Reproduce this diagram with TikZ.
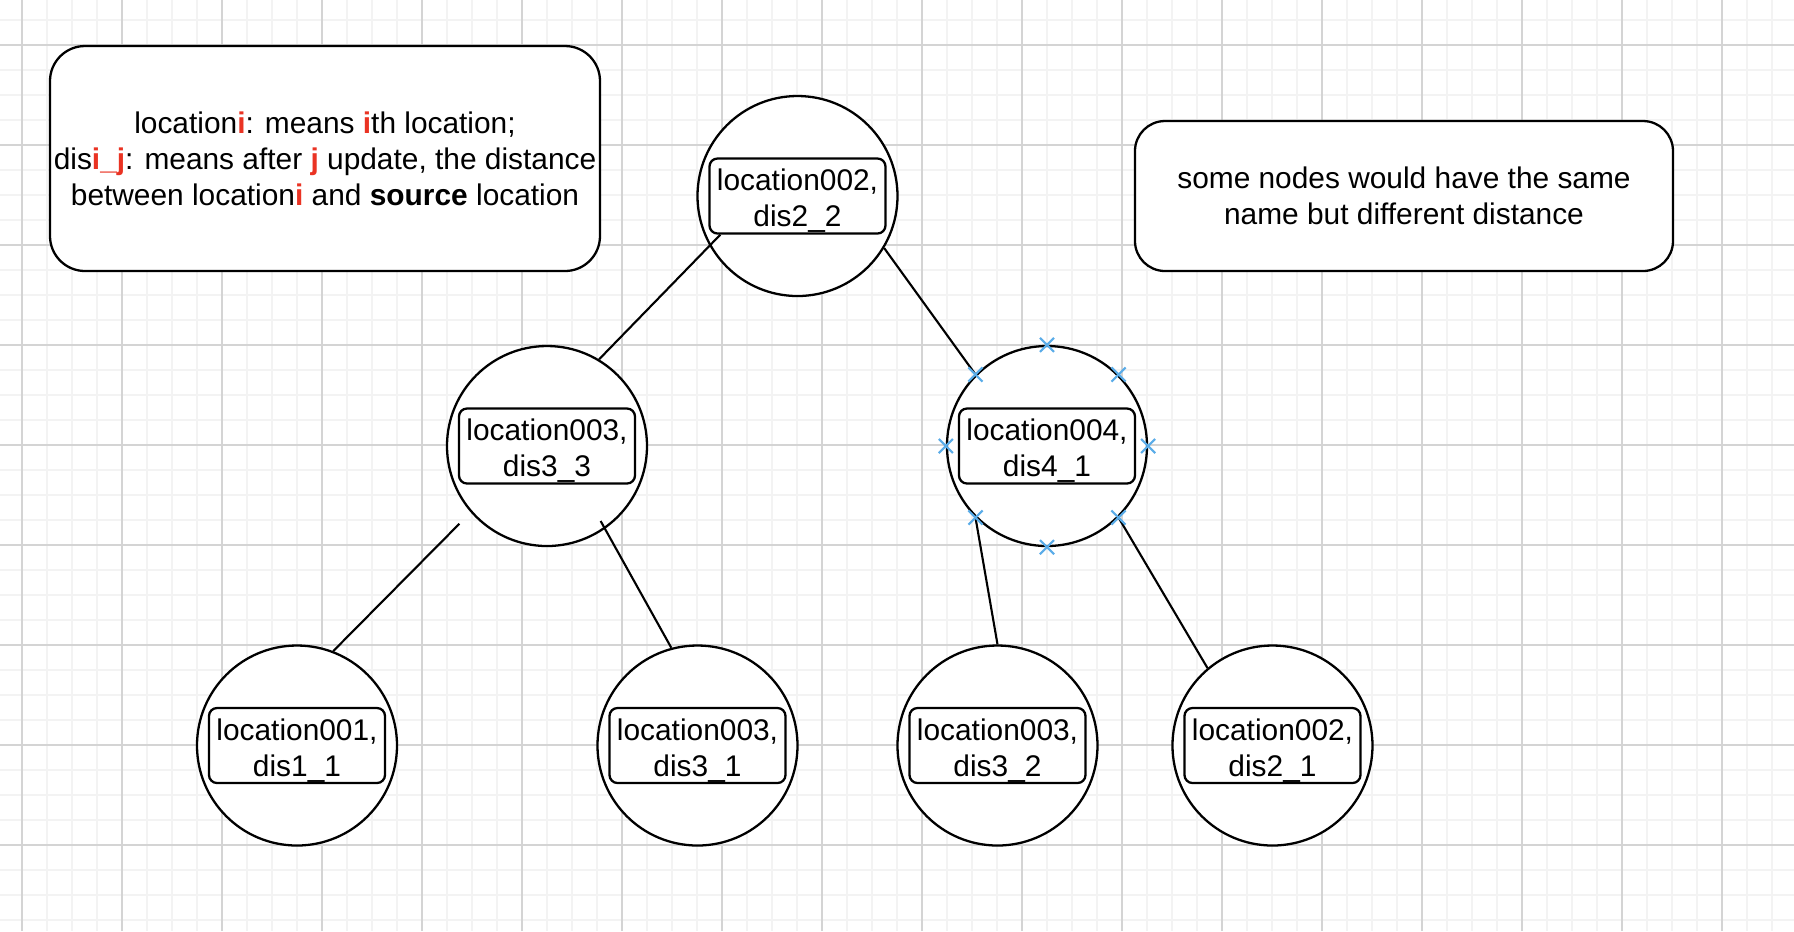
\documentclass[tikz,border=0pt]{standalone}
\usepackage{fontspec}
\setmainfont{Liberation Sans}
\usepackage{tikz}
\usetikzlibrary{shapes.misc}
\definecolor{drawred}{RGB}{234,51,35}
\definecolor{hoverblue}{RGB}{90,172,232}
\definecolor{gridmajor}{RGB}{212,212,212}
\definecolor{gridminor}{RGB}{243,243,243}
\newcommand{\redb}[1]{\textbf{\textcolor{drawred}{#1}}}
\newcommand{\loctext}[2]{\rule{0pt}{9pt}location#1,\\ dis#2}
\tikzstyle{minorgrid} = [draw=gridminor, line width=0.4pt, step=0.25]
\tikzstyle{majorgrid} = [draw=gridmajor, line width=0.4pt, step=1]
\tikzstyle{notebox} = [draw, fill=white, line width=0.65pt, align=center, inner sep=0pt, font={\fontsize{8.5}{10.2}\selectfont}]
\tikzstyle{loccircle} = [draw, circle, fill=white, line width=0.65pt, minimum size=2cm, inner sep=0pt]
\tikzstyle{locbox} = [draw, fill=white, rounded corners=0.08cm, line width=0.65pt, minimum width=1.76cm, minimum height=0.75cm, inner sep=0pt, align=center, font={\fontsize{8.5}{10.2}\selectfont}]
\tikzstyle{link} = [line width=0.6pt]
\tikzstyle{hoverx} = [cross out, draw=hoverblue, line width=0.6pt, minimum size=0.12cm, inner sep=0pt]

\begin{document}
\begin{tikzpicture}
            \useasboundingbox (0,0) rectangle (17.94,-9.31);
            \fill[white] (0,0) rectangle (17.94,-9.31);
            % background grid
            \begin{scope}[shift={(0.22,-0.45)}]
                \draw[minorgrid] (-0.22,0.45) grid (17.72,-8.86);
                \draw[majorgrid] (-0.22,0.45) grid (17.72,-8.86);
            \end{scope}
            % notes
            \node[notebox, minimum width=5.5cm, minimum height=2.25cm, rounded corners=0.35cm] (legend) at (3.25,-1.585)
                {location\redb{i}: means \redb{i}th location;\\
                 dis\redb{i\_j}: means after \redb{j} update, the distance\\
                 between location\redb{i} and \textbf{source} location};
            \node[notebox, minimum width=5.38cm, minimum height=1.5cm, rounded corners=0.3cm] (remark) at (14.04,-1.96)
                {some nodes would have the same\\ name but different distance};
            % tree
            \node[loccircle] (root) at (7.975,-1.96) {};
            \node[locbox] (rootlab) at (root) {\loctext{002}{2\_2}};
            \node[loccircle] (loc3c) at (5.47,-4.46) {};
            \node[locbox] (loc3clab) at (loc3c) {\loctext{003}{3\_3}};
            \node[loccircle] (loc4a) at (10.47,-4.46) {};
            \node[locbox] (loc4alab) at (loc4a) {\loctext{004}{4\_1}};
            \node[loccircle] (loc1a) at (2.97,-7.455) {};
            \node[locbox] (loc1alab) at (loc1a) {\loctext{001}{1\_1}};
            \node[loccircle] (loc3a) at (6.975,-7.455) {};
            \node[locbox] (loc3alab) at (loc3a) {\loctext{003}{3\_1}};
            \node[loccircle] (loc3b) at (9.975,-7.455) {};
            \node[locbox] (loc3blab) at (loc3b) {\loctext{003}{3\_2}};
            \node[loccircle] (loc2a) at (12.725,-7.455) {};
            \node[locbox] (loc2alab) at (loc2a) {\loctext{002}{2\_1}};
            % edges
            \draw[link] ([xshift=0.12cm]rootlab.south west) -- (loc3c.59);
            \draw[link] (root.-31) -- (loc4a.135);
            \draw[link, shorten <=0.16cm] (loc3c.221) -- (loc1a.69);
            \draw[link, shorten <=-0.09cm] (loc3c.-55) -- (loc3a.105);
            \draw[link] (loc4a.225) -- (loc3b.north);
            \draw[link] (loc4a.-45) -- (loc2a.130);
            % connection points of the selected node
            \foreach \a in {0,45,...,315}
                \node[hoverx] (hx\a) at (loc4a.\a) {};
        \end{tikzpicture}
\end{document}
